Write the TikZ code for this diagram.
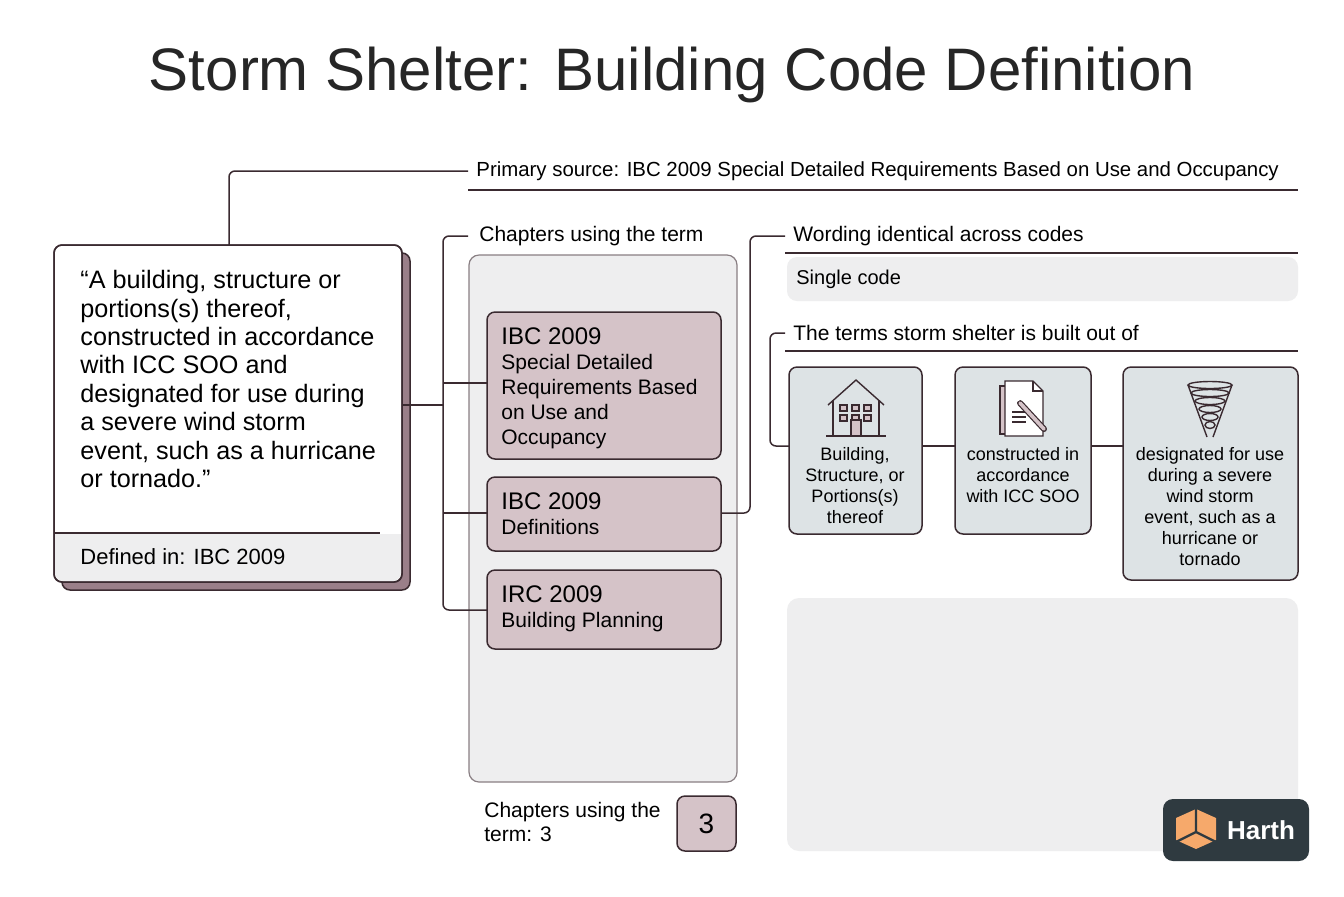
\documentclass[tikz,border=0pt]{standalone}
\usepackage{fontspec}
\setmainfont{Liberation Sans}
\usetikzlibrary{positioning,calc}
\definecolor{ink}{HTML}{3A2A30}
\definecolor{mauve}{HTML}{D5C3C8}
\definecolor{mauvedark}{HTML}{9A7F89}
\definecolor{panel}{HTML}{EEEEEF}
\definecolor{teal}{HTML}{DDE3E5}
\definecolor{logo}{HTML}{2F3A40}
\definecolor{orange}{HTML}{F6A96B}
\tikzset{
  wire/.style={draw=ink,line width=0.75pt,rounded corners=3pt},
  lbl/.style={anchor=west,font=\fontsize{10.5}{12}\selectfont,text=black,inner sep=0pt},
  chap/.style={draw=ink,fill=mauve,line width=0.75pt,rounded corners=4pt},
  part/.style={draw=ink,fill=teal,line width=0.75pt,rounded corners=4pt},
  chaptxt/.style={anchor=north west,align=left,inner sep=0pt,font=\fontsize{10.5}{12.5}\selectfont},
  parttxt/.style={align=center,inner sep=0pt,font=\fontsize{9}{10.5}\selectfont},
  icon/.style={draw=ink,line width=0.7pt,fill=mauve}
}
\begin{document}
\begin{tikzpicture}[x=0.5pt,y=-0.5pt]
\useasboundingbox[fill=white] (0,0) rectangle (1344,896);
% title
\node[font=\fontsize{30}{34}\selectfont,text=black!85] (title) at (672,75) {Storm Shelter: Building Code Definition};

% definition card
\fill[mauvedark,rounded corners=4pt] (62,253) rectangle (410,590);
\draw[ink,line width=0.75pt,rounded corners=4pt] (62,253) rectangle (410,590);
\draw[ink,line width=0.75pt,fill=white,rounded corners=4pt] (54,245) rectangle (402,582);
\fill[panel,rounded corners=4pt] (55,534) rectangle (401,581);
\fill[panel] (55,534) rectangle (401,560);
\draw[ink,line width=0.6pt] (54,533) -- (380,533);
\draw[ink,line width=0.75pt,rounded corners=4pt] (54,245) rectangle (402,582);
\node[anchor=north west,align=left,inner sep=0pt,font=\fontsize{12.6}{14.2}\selectfont] (quote) at (80,270)
  {“A building, structure or\\portions(s) thereof,\\constructed in accordance\\with ICC SOO and\\designated for use during\\a severe wind storm\\event, such as a hurricane\\or tornado.”};
\node[lbl,font=\fontsize{11}{13}\selectfont] (defin) at (80,557) {Defined in: IBC 2009};
\coordinate (cardtop) at (229,245);
\coordinate (cardright) at (402,405);

% primary source
\node[lbl,font=\fontsize{10.2}{12}\selectfont] (source) at (476,171) {Primary source: IBC 2009 Special Detailed Requirements Based on Use and Occupancy};
\draw[wire] (cardtop) |- (468,171);
\draw[ink,line width=0.6pt] (468,190) -- (1298,190);

% chapters
\node[lbl] (chaplbl) at (479,236) {Chapters using the term};
\fill[panel,rounded corners=5pt] (469,255) rectangle (737,782);
\draw[ink!60,line width=0.6pt,rounded corners=5pt] (469,255) rectangle (737,782);
\draw[chap] (487,312) rectangle (721,459);
\draw[chap] (487,477) rectangle (721,551);
\draw[chap] (487,570) rectangle (721,649);
\node[chaptxt] (ibcA) at (501,327) {{\fontsize{12}{14}\selectfont IBC 2009}\\Special Detailed\\Requirements Based\\on Use and\\Occupancy};
\node[chaptxt] (ibcB) at (501,492) {{\fontsize{12}{14}\selectfont IBC 2009}\\Definitions};
\node[chaptxt] (ircC) at (501,585) {{\fontsize{12}{14}\selectfont IRC 2009}\\Building Planning};
\draw[wire] (468,236) -| (443,610) -- (487,610);
\draw[wire] (cardright) -- (430,405) -- (443,405);
\draw[wire] (443,383) -- (487,383);
\draw[wire] (443,513) -- (487,513);

% wording
\node[lbl] (wordlbl) at (793,236) {Wording identical across codes};
\draw[ink,line width=0.6pt] (785,253) -- (1298,253);
\fill[panel,rounded corners=5pt] (787,257) rectangle (1298,301);
\node[lbl,font=\fontsize{10}{12}\selectfont] (single) at (796,279) {Single code};
\draw[wire] (721,513) -| (750,236) -- (785,236);

% parts
\node[lbl] (partlbl) at (793,333) {The terms storm shelter is built out of};
\draw[ink,line width=0.6pt] (785,351) -- (1298,351);
\draw[part] (789,367) rectangle (922,534);
\draw[part] (955,367) rectangle (1091,534);
\draw[part] (1123,367) rectangle (1298,580);
\draw[wire] (785,333) -| (770,446) -- (789,446);
\draw[wire] (922,446) -- (955,446);
\draw[wire] (1091,446) -- (1123,446);
\node[parttxt,anchor=north] (partA) at (855,447) {Building,\\Structure, or\\Portions(s)\\thereof};
\node[parttxt,anchor=north] (partB) at (1023,447) {constructed in\\accordance\\with ICC SOO};
\node[parttxt,anchor=north] (partC) at (1210,447) {designated for use\\during a severe\\wind storm\\event, such as a\\hurricane or\\tornado};

% house icon
\draw[icon,fill=none] (828,405) -- (856,380) -- (884,405);
\draw[ink,line width=0.7pt] (833,400) -- (833,436) (879,400) -- (879,436) (826,436) -- (886,436);
\foreach \i in {0,1,2} \foreach \j in {0,1} {
  \draw[icon] (840+\i*12,{405+\j*10}) rectangle ++(7,6);
}
\draw[icon] (851,420) rectangle (861,436);
% document icon
\draw[icon] (1000,386) rectangle (1034,434);
\draw[ink,line width=0.7pt,fill=white] (1005,381) -- (1033,381) -- (1043,391) -- (1043,436) -- (1005,436) -- cycle;
\draw[ink,line width=0.7pt] (1033,381) -- (1033,391) -- (1043,391);
\foreach \k in {0,1,2} \draw[ink,line width=0.6pt] (1012,{412+\k*5}) -- (1026,{412+\k*5});
\draw[ink,line width=3pt,line cap=round] (1020,403) -- (1044,429);
\draw[mauve,line width=1.8pt,line cap=round] (1020,403) -- (1044,429);
\fill[white] (1017,398) circle (3.5);
% tornado icon
\foreach \r/\yy in {22/385,19/393,15/401,11/409,8/417,5/425} {
  \draw[ink,line width=0.7pt] (1210,\yy) ellipse ({\r} and 3.5);
}
\draw[ink,line width=0.7pt] (1188,385) -- (1207,437) (1232,385) -- (1213,437);

% empty panel
\fill[panel,rounded corners=6pt] (787,598) rectangle (1298,851);

% count
\node[anchor=west,align=left,inner sep=0pt,font=\fontsize{10.5}{12}\selectfont] (count) at (484,822) {Chapters using the\\term: 3};
\draw[chap] (677,796) rectangle (736,851);
\node[font=\fontsize{14}{16}\selectfont] (countval) at (706.5,823.5) {3};

% logo
\fill[logo,rounded corners=5pt] (1163,799) rectangle (1309,861);
\fill[orange] (1176,818) -- (1196,809) -- (1216,818) -- (1216,840) -- (1196,849) -- (1176,840) -- cycle;
\draw[logo,line width=1.2pt] (1196,809) -- (1196,832) -- (1176,842) (1196,832) -- (1216,842);
\node[anchor=west,text=white,font=\bfseries\fontsize{13}{15}\selectfont] (brand) at (1220,830) {Harth};
\end{tikzpicture}
\end{document}
